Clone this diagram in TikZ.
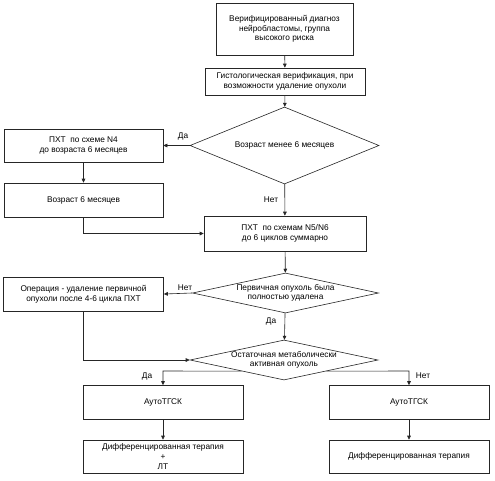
\documentclass[tikz,border=0pt]{standalone}
\usepackage{fontspec}
\setmainfont{Liberation Sans}
\usetikzlibrary{shapes.geometric,arrows.meta,calc}
\begin{document}
\begin{tikzpicture}[x=1pt,y=-1pt,
  font=\fontsize{8.3}{9.6}\selectfont,
  box/.style={draw=black!85, line width=0.6pt, rectangle, inner sep=0pt, align=center},
  dia/.style={draw=black!85, line width=0.6pt, diamond, inner sep=0pt},
  txt/.style={align=center, inner sep=0pt},
  arr/.style={draw=black!85, line width=0.6pt, -{Triangle[length=4pt,width=3.6pt]}},
  lbl/.style={inner sep=0pt}]
\fill[white] (0,0) rectangle (495,480);
\useasboundingbox (0,0) rectangle (495,480);

\node[box, minimum width=137pt, minimum height=52pt] (b1) at (284.5,29) {Верифицированный диагноз\\нейробластомы, группа\\высокого риска};
\node[box, minimum width=160pt, minimum height=27pt] (b2) at (285,81.5) {Гистологическая верификация, при\\возможности удаление опухоли};
\node[dia, minimum width=189pt, minimum height=77pt] (d1) at (284.5,145.5) {};
\node[txt] at (d1) {Возраст менее 6 месяцев};
\node[box, minimum width=159pt, minimum height=33pt] (b3) at (83.5,145.5) {ПХТ\ \ по схеме N4\\до возраста 6 месяцев};
\node[box, minimum width=159pt, minimum height=34pt] (b4) at (83.5,200) {Возраст 6 месяцев};
\node[box, minimum width=162pt, minimum height=35pt] (b5) at (285,233.5) {ПХТ\ \ по схемам N5/N6\\до 6 циклов суммарно};
\node[dia, minimum width=186pt, minimum height=40pt] (d2) at (285.5,293) {};
\node[txt] at (d2) {Первичная опухоль была\\полностью удалена};
\node[box, minimum width=160pt, minimum height=34pt] (b6) at (83.5,294) {Операция - удаление первичной\\опухоли после 4-6 цикла ПХТ};
\node[dia, minimum width=188pt, minimum height=40pt] (d3) at (284,360) {};
\node[txt] at (d3) {Остаточная метаболически\\активная опухоль};
\node[box, minimum width=160pt, minimum height=34pt] (b7) at (163,402.5) {АутоТГСК};
\node[box, minimum width=160pt, minimum height=34pt] (b8) at (409,402.5) {АутоТГСК};
\node[box, minimum width=160pt, minimum height=33pt] (b9) at (163,456.5) {Дифференцированная терапия\\+\\ЛТ};
\node[box, minimum width=160pt, minimum height=33pt] (b10) at (409,456.5) {Дифференцированная терапия};

\coordinate (c1) at (83.5,233.5);
\coordinate (c2) at (83.5,360);
\coordinate (c3) at (163,371);
\coordinate (c4) at (409,371);

\draw[arr] (b1) -- (b2);
\draw[arr] (b2) -- (d1);
\draw[arr] (d1) -- (b3);
\draw[arr] (b3) -- (b4);
\draw[arr] (d1) -- (b5);
\draw[arr] (b4.south) -- (c1) -- (b5.west);
\draw[arr] (b5) -- (d2);
\draw[arr] (d2.west) -- (b6.east);
\draw[arr] (d2) -- (d3);
\draw[arr] (b6.south) -- (c2) -- (d3.west);
\draw[arr] ($(d3.west)!0.55!(d3.south)$) -- (c3) -- (b7.north);
\draw[arr] ($(d3.east)!0.55!(d3.south)$) -- (c4) -- (b8.north);
\draw[arr] (b7) -- (b9);
\draw[arr] (b8) -- (b10);

\node[lbl] at (183,136) {Да};
\node[lbl] at (271,200) {Нет};
\node[lbl] at (185,288) {Нет};
\node[lbl] at (271,321) {Да};
\node[lbl] at (147,376) {Да};
\node[lbl] at (423,376) {Нет};
\end{tikzpicture}
\end{document}
